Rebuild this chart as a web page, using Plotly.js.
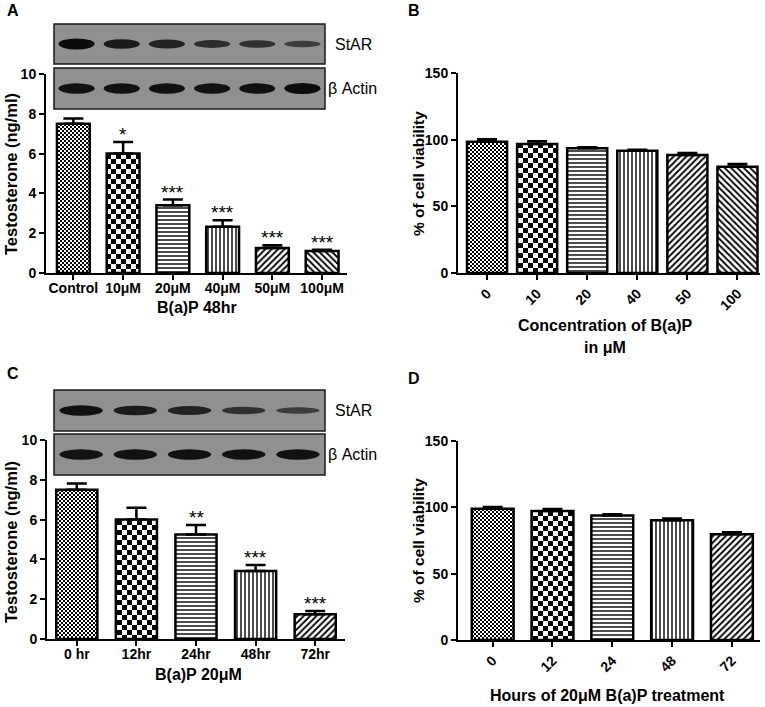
<!DOCTYPE html>
<html>
<head>
<meta charset="utf-8">
<script src="https://cdn.plot.ly/plotly-3.0.1.min.js"></script>
<style>body{margin:0;background:#fff;}</style>
</head>
<body>
<div id="plot" style="width:765px;height:707px;"></div>
<script>
"use strict";
// ---- data ----
var catA = ['Control', '10μM', '20μM', '40μM', '50μM', '100μM'];
var testoA = [7.5, 6.0, 3.4, 2.32, 1.26, 1.1];
var testoErrA = [0.27, 0.58, 0.29, 0.33, 0.14, 0.07];
var sigA = ['', '*', '***', '***', '***', '***'];
var starBandA = [1.0, 0.8, 0.7, 0.55, 0.5, 0.35];
var actinBandA = [0.9, 0.95, 0.95, 0.9, 0.95, 1.0];

var catB = ['0', '10', '20', '40', '50', '100'];
var viaB = [98.5, 96.8, 93.5, 91.7, 88.5, 79.7];
var viaErrB = [1.8, 2.0, 0.8, 0.8, 1.5, 2.0];
var sigB = ['', '', '', '*', '**', '***'];

var catC = ['0 hr', '12hr', '24hr', '48hr', '72hr'];
var testoC = [7.5, 6.0, 5.25, 3.42, 1.25];
var testoErrC = [0.32, 0.6, 0.48, 0.3, 0.16];
var sigC = ['', '', '**', '***', '***'];
var starBandC = [0.95, 0.8, 0.7, 0.5, 0.35];
var actinBandC = [0.9, 0.95, 0.95, 0.9, 0.95];

var catD = ['0', '12', '24', '48', '72'];
var viaD = [99.0, 97.3, 93.8, 90.3, 79.8];
var viaErrD = [1.3, 1.5, 1.0, 1.3, 1.5];
var sigD = ['', '', '', '*', '**'];

// ---- helpers ----
var W = 765, H = 707;
var FONT = 'Arial, "Liberation Sans", sans-serif';
function px(x){ return x / W; }
function py(y){ return 1 - y / H; }

// bar fill patterns, in the order GraphPad used them
var PATTERNS = [
  {path: 'M0,0H2V2H0ZM2,2H4V4H2Z', size: 4},        // fine checker
  {path: 'M0,0H5V5H0ZM5,5H10V10H5Z', size: 10},     // coarse checker
  {shape: '-', size: 4, solidity: 0.35},
  {shape: '|', size: 4, solidity: 0.35},
  {shape: '/', size: 4.5, solidity: 0.4},
  {shape: '\\', size: 4.5, solidity: 0.4}
];

// one trace per bar (scalar pattern per trace; custom paths only work that way)
function barTraces(cats, vals, errs, xa, ya, width){
  return cats.map(function(c, i){
    var p = PATTERNS[i];
    var pattern = {fgcolor: 'black', bgcolor: 'white', fillmode: 'replace', size: p.size};
    if (p.path) pattern.path = p.path;
    else { pattern.shape = p.shape; pattern.solidity = p.solidity; }
    return {
      type: 'bar',
      x: [c], y: [vals[i]],
      xaxis: xa, yaxis: ya,
      width: width,
      marker: {color: 'white', line: {color: 'black', width: 2.5}, pattern: pattern},
      error_y: {
        type: 'data', symmetric: false, array: [errs[i]], arrayminus: [0],
        color: 'black', thickness: 2.5, width: 10
      },
      hoverinfo: 'x+y', showlegend: false
    };
  });
}

function starNotes(cats, vals, errs, sigs, xa, ya){
  var out = [];
  cats.forEach(function(c, i){
    if (!sigs[i]) return;
    out.push({
      xref: xa, yref: ya, x: c, y: vals[i] + errs[i],
      text: sigs[i], showarrow: false, yanchor: 'bottom', yshift: -5,
      font: {family: FONT, size: 19, color: 'black'}
    });
  });
  return out;
}

function xAxis(domain, anchor, cats, range, angle){
  return {
    domain: domain, anchor: anchor, type: 'category', range: range,
    categoryorder: 'array', categoryarray: cats,
    showline: true, linewidth: 2, linecolor: 'black',
    ticks: 'outside', ticklen: 5, tickwidth: 2, tickcolor: 'black',
    ticklabelstandoff: angle ? 0 : -4,
    showgrid: false, zeroline: false, fixedrange: true,
    tickangle: angle,
    tickfont: {family: FONT, size: 14, color: 'black', weight: 'bold'}
  };
}
function yAxis(domain, anchor, range, dtick){
  return {
    domain: domain, anchor: anchor, range: range, dtick: dtick,
    showline: true, linewidth: 2, linecolor: 'black',
    ticks: 'outside', ticklen: 5, tickwidth: 2, tickcolor: 'black',
    showgrid: false, zeroline: false, fixedrange: true,
    tickfont: {family: FONT, size: 14, color: 'black', weight: 'bold'}
  };
}

// western blot strips drawn as layout shapes (lanes spread evenly in the box)
function blot(x0, x1, y0, y1, bands, label, labelX){
  var shapes = [{
    type: 'rect', xref: 'paper', yref: 'paper',
    x0: px(x0), x1: px(x1), y0: py(y1), y1: py(y0),
    fillcolor: '#909090', line: {color: '#1a1a1a', width: 1.5}, layer: 'above'
  }];
  var lane = (x1 - x0) / bands.length, yc = (y0 + y1) / 2;
  bands.forEach(function(b, i){
    var cx = x0 + lane * (i + 0.5), hw = lane * 0.4, hh = 2 + b * 3.5;
    shapes.push({
      type: 'circle', xref: 'paper', yref: 'paper',
      x0: px(cx - hw), x1: px(cx + hw), y0: py(yc + hh), y1: py(yc - hh),
      fillcolor: 'rgba(12,12,12,' + (0.45 + 0.55 * b).toFixed(2) + ')',
      line: {width: 0}, layer: 'above'
    });
  });
  var note = {
    xref: 'paper', yref: 'paper', x: px(labelX), y: py(yc), xanchor: 'left', yanchor: 'middle',
    text: label, showarrow: false, font: {family: FONT, size: 16, color: 'black'}
  };
  return {shapes: shapes, note: note};
}

function title(text, x, y, angle, size){
  return {
    xref: 'paper', yref: 'paper', x: px(x), y: py(y), xanchor: 'center', yanchor: 'middle',
    text: text, showarrow: false, textangle: angle || 0,
    font: {family: FONT, size: size || 15, color: 'black', weight: 'bold'}
  };
}

var data = []
  .concat(barTraces(catA, testoA, testoErrA, 'x', 'y', 0.66))
  .concat(barTraces(catB, viaB, viaErrB, 'x2', 'y2', 0.8))
  .concat(barTraces(catC, testoC, testoErrC, 'x3', 'y3', 0.69))
  .concat(barTraces(catD, viaD, viaErrD, 'x4', 'y4', 0.7));

var blots = [
  blot(54, 325, 24, 64, starBandA, 'StAR', 333),
  blot(54, 325, 68, 109, actinBandA, 'β Actin', 326),
  blot(54, 325, 390, 431, starBandC, 'StAR', 333),
  blot(54, 325, 434, 475, actinBandC, 'β Actin', 326)
];

var shapes = [], annotations = [];
blots.forEach(function(b){ shapes = shapes.concat(b.shapes); annotations.push(b.note); });

annotations = annotations
  .concat(starNotes(catA, testoA, testoErrA, sigA, 'x', 'y'))
  .concat(starNotes(catB, viaB, viaErrB, sigB, 'x2', 'y2'))
  .concat(starNotes(catC, testoC, testoErrC, sigC, 'x3', 'y3'))
  .concat(starNotes(catD, viaD, viaErrD, sigD, 'x4', 'y4'))
  .concat([
    title('A', 13, 10, 0, 16), title('B', 414, 10, 0, 16),
    title('C', 13, 373, 0, 16), title('D', 414, 378, 0, 16),
    title('Testosterone (ng/ml)', 11, 174, -90, 16.5),
    title('B(a)P 48hr', 197, 307, 0, 16),
    title('% of cell viability', 418, 173, -90, 15.5),
    title('Concentration of B(a)P', 605, 325, 0, 16),
    title('in μM', 605, 347, 0, 16),
    title('Testosterone (ng/ml)', 11, 542, -90, 16.5),
    title('B(a)P 20μM', 198, 674, 0, 16),
    title('% of cell viability', 418, 540, -90, 15.5),
    title('Hours of 20μM B(a)P treatment', 607, 695, 0, 16)
  ]);

var layout = {
  width: W, height: H,
  margin: {l: 0, r: 0, t: 0, b: 0},
  paper_bgcolor: 'white', plot_bgcolor: 'white',
  showlegend: false,
  barmode: 'overlay',
  xaxis: xAxis([px(46), px(347)], 'y', catA, [-0.55, 5.5], 0),
  yaxis: yAxis([py(273), py(74)], 'x', [0, 10], 2),
  xaxis2: xAxis([px(458), px(760)], 'y2', catB, [-0.58, 5.45], -45),
  yaxis2: yAxis([py(273), py(73)], 'x2', [0, 150], 50),
  xaxis3: xAxis([px(47), px(345)], 'y3', catC, [-0.5, 4.5], 0),
  yaxis3: yAxis([py(639), py(440)], 'x3', [0, 10], 2),
  xaxis4: xAxis([px(458), px(760)], 'y4', catD, [-0.58, 4.47], -45),
  yaxis4: yAxis([py(640), py(441)], 'x4', [0, 150], 50),
  shapes: shapes,
  annotations: annotations
};

Plotly.newPlot('plot', data, layout, {displayModeBar: false, staticPlot: true});
</script>
</body>
</html>
